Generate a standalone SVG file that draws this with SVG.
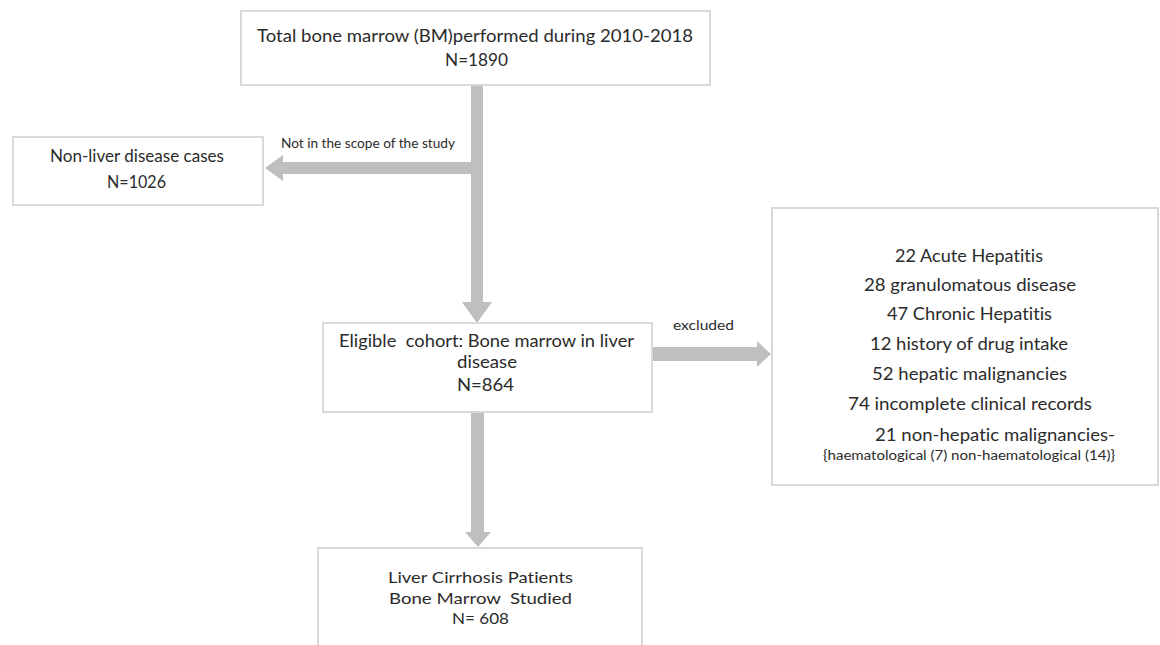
<svg xmlns="http://www.w3.org/2000/svg" width="1160" height="645" viewBox="0 0 1160 645">
<style>
.box{fill:#ffffff;stroke:#d9d9d9;stroke-width:2}
.arr{fill:#bfbfbf;stroke:none}
text{font-family:Lato,"Liberation Sans",sans-serif;fill:#2b2b2b;text-anchor:middle;font-variant-ligatures:none}
.lg{font-size:17.5px}
.xl{font-size:18px}
.md{font-size:16.5px}
.bt{font-size:16px}
.sm{font-size:12.5px}
</style>
<rect width="1160" height="645" fill="#ffffff"/>
<g id="connectors">
<path class="arr" d="M471,86 H483 V302 H492 L477,323 L462,302 H471 Z"/>
<path class="arr" d="M471,162 V174 H283 V181 L265,168 L283,155 V162 Z"/>
<path class="arr" d="M653,347 H757 V341 L771,354 L757,367 V361 H653 Z"/>
<path class="arr" d="M471,413 H484 V532 H491 L478,547 L465,532 H471 Z"/>
<text class="sm" x="368" y="148" textLength="174" lengthAdjust="spacingAndGlyphs">Not in the scope of the study</text>
<text class="sm" x="703.5" y="330" textLength="61" lengthAdjust="spacingAndGlyphs">excluded</text>
</g>
<g id="node-total">
<rect class="box" x="241" y="11" width="469" height="74"/>
<text class="lg" x="475" y="42" textLength="436" lengthAdjust="spacingAndGlyphs">Total bone marrow (BM)performed during 2010-2018</text>
<text class="lg" x="476.5" y="66" textLength="63" lengthAdjust="spacingAndGlyphs">N=1890</text>
</g>
<g id="node-nonliver">
<rect class="box" x="13" y="137" width="250" height="68"/>
<text class="md" x="137" y="162" textLength="174" lengthAdjust="spacingAndGlyphs">Non-liver disease cases</text>
<text class="md" x="136.5" y="188" textLength="59" lengthAdjust="spacingAndGlyphs">N=1026</text>
</g>
<g id="node-eligible">
<rect class="box" x="323" y="323" width="329" height="89"/>
<text class="lg" x="486.5" y="347" textLength="295" lengthAdjust="spacingAndGlyphs" xml:space="preserve">Eligible  cohort: Bone marrow in liver</text>
<text class="lg" x="487" y="368" textLength="60" lengthAdjust="spacingAndGlyphs">disease</text>
<text class="lg" x="485.5" y="391" textLength="57" lengthAdjust="spacingAndGlyphs">N=864</text>
</g>
<g id="node-excluded">
<rect class="box" x="772" y="208" width="386" height="277"/>
<text class="xl" x="969" y="262" textLength="148" lengthAdjust="spacingAndGlyphs">22 Acute Hepatitis</text>
<text class="xl" x="970" y="291" textLength="212" lengthAdjust="spacingAndGlyphs">28 granulomatous disease</text>
<text class="xl" x="969.5" y="320" textLength="165" lengthAdjust="spacingAndGlyphs">47 Chronic Hepatitis</text>
<text class="xl" x="969" y="350" textLength="198" lengthAdjust="spacingAndGlyphs">12 history of drug intake</text>
<text class="xl" x="969.5" y="380" textLength="195" lengthAdjust="spacingAndGlyphs">52 hepatic malignancies</text>
<text class="xl" x="970" y="410" textLength="244" lengthAdjust="spacingAndGlyphs">74 incomplete clinical records</text>
<text class="xl" x="995" y="441" textLength="240" lengthAdjust="spacingAndGlyphs">21 non-hepatic malignancies-</text>
<text class="sm" x="969" y="460" textLength="292" lengthAdjust="spacingAndGlyphs">{haematological (7) non-haematological (14)}</text>
</g>
<g id="node-cirrhosis">
<rect class="box" x="318" y="548" width="324" height="110"/>
<text class="bt" x="480.5" y="583" textLength="185" lengthAdjust="spacingAndGlyphs">Liver Cirrhosis Patients</text>
<text class="bt" x="480.5" y="604" textLength="183" lengthAdjust="spacingAndGlyphs" xml:space="preserve">Bone Marrow  Studied</text>
<text class="bt" x="480.5" y="624" textLength="57" lengthAdjust="spacingAndGlyphs">N= 608</text>
</g>
</svg>
